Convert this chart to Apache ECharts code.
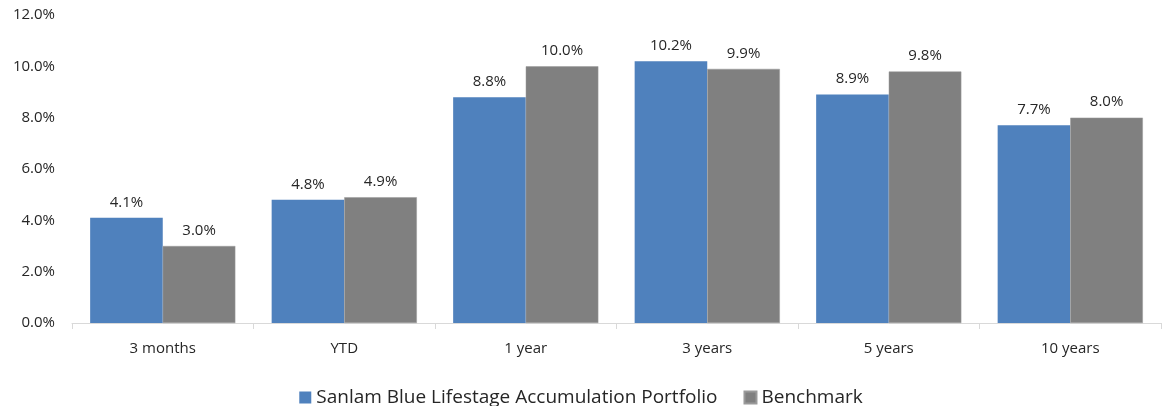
<!DOCTYPE html>
<html>
<head>
<meta charset="utf-8">
<script src="https://cdn.jsdelivr.net/npm/echarts@6/dist/echarts.min.js"></script>
<style>
  html, body { margin: 0; padding: 0; background: #fff; }
  #chart { width: 1162px; height: 406px; }
</style>
</head>
<body>
<div id="chart"></div>
<script>
const categories = ['3 months', 'YTD', '1 year', '3 years', '5 years', '10 years'];
const portfolio = [4.1, 4.8, 8.8, 10.2, 8.9, 7.7];
const benchmark = [3.0, 4.9, 10.0, 9.9, 9.8, 8.0];
const seriesNames = ['Sanlam Blue Lifestage Accumulation Portfolio', 'Benchmark'];

const chart = echarts.init(document.getElementById('chart'));
const font = "'Open Sans', 'Noto Sans', sans-serif";
const textColor = '#262626';

const labelOpt = {
  show: true,
  position: 'top',
  distance: 8,
  color: textColor,
  fontFamily: font,
  fontSize: 15,
  formatter: p => p.value.toFixed(1) + '%'
};

chart.setOption({
  animation: false,
  grid: { left: 72, right: 1, top: 15, bottom: 83 },
  legend: {
    top: 383,
    left: 'center',
    itemWidth: 12,
    itemHeight: 12,
    itemGap: 26,
    icon: 'rect',
    textStyle: { color: textColor, fontFamily: font, fontSize: 19 },
    data: seriesNames
  },
  xAxis: {
    type: 'category',
    data: categories,
    axisLine: { lineStyle: { color: '#d9d9d9' } },
    axisTick: { show: true, length: 6, lineStyle: { color: '#d9d9d9' } },
    axisLabel: { color: textColor, fontFamily: font, fontSize: 15, margin: 18 }
  },
  yAxis: {
    type: 'value',
    min: 0,
    max: 12,
    interval: 2,
    splitLine: { show: false },
    axisLine: { show: false },
    axisTick: { show: false },
    axisLabel: {
      color: textColor, fontFamily: font, fontSize: 15, margin: 17,
      formatter: v => v.toFixed(1) + '%'
    }
  },
  series: [
    {
      name: seriesNames[0],
      type: 'bar',
      data: portfolio,
      barWidth: '40%',
      barGap: '0%',
      itemStyle: { color: '#4f81bd' },
      label: labelOpt
    },
    {
      name: seriesNames[1],
      type: 'bar',
      data: benchmark,
      barWidth: '40%',
      itemStyle: { color: '#808080', borderColor: '#9a9a9a', borderWidth: 0.5 },
      label: labelOpt
    }
  ]
});
</script>
</body>
</html>
